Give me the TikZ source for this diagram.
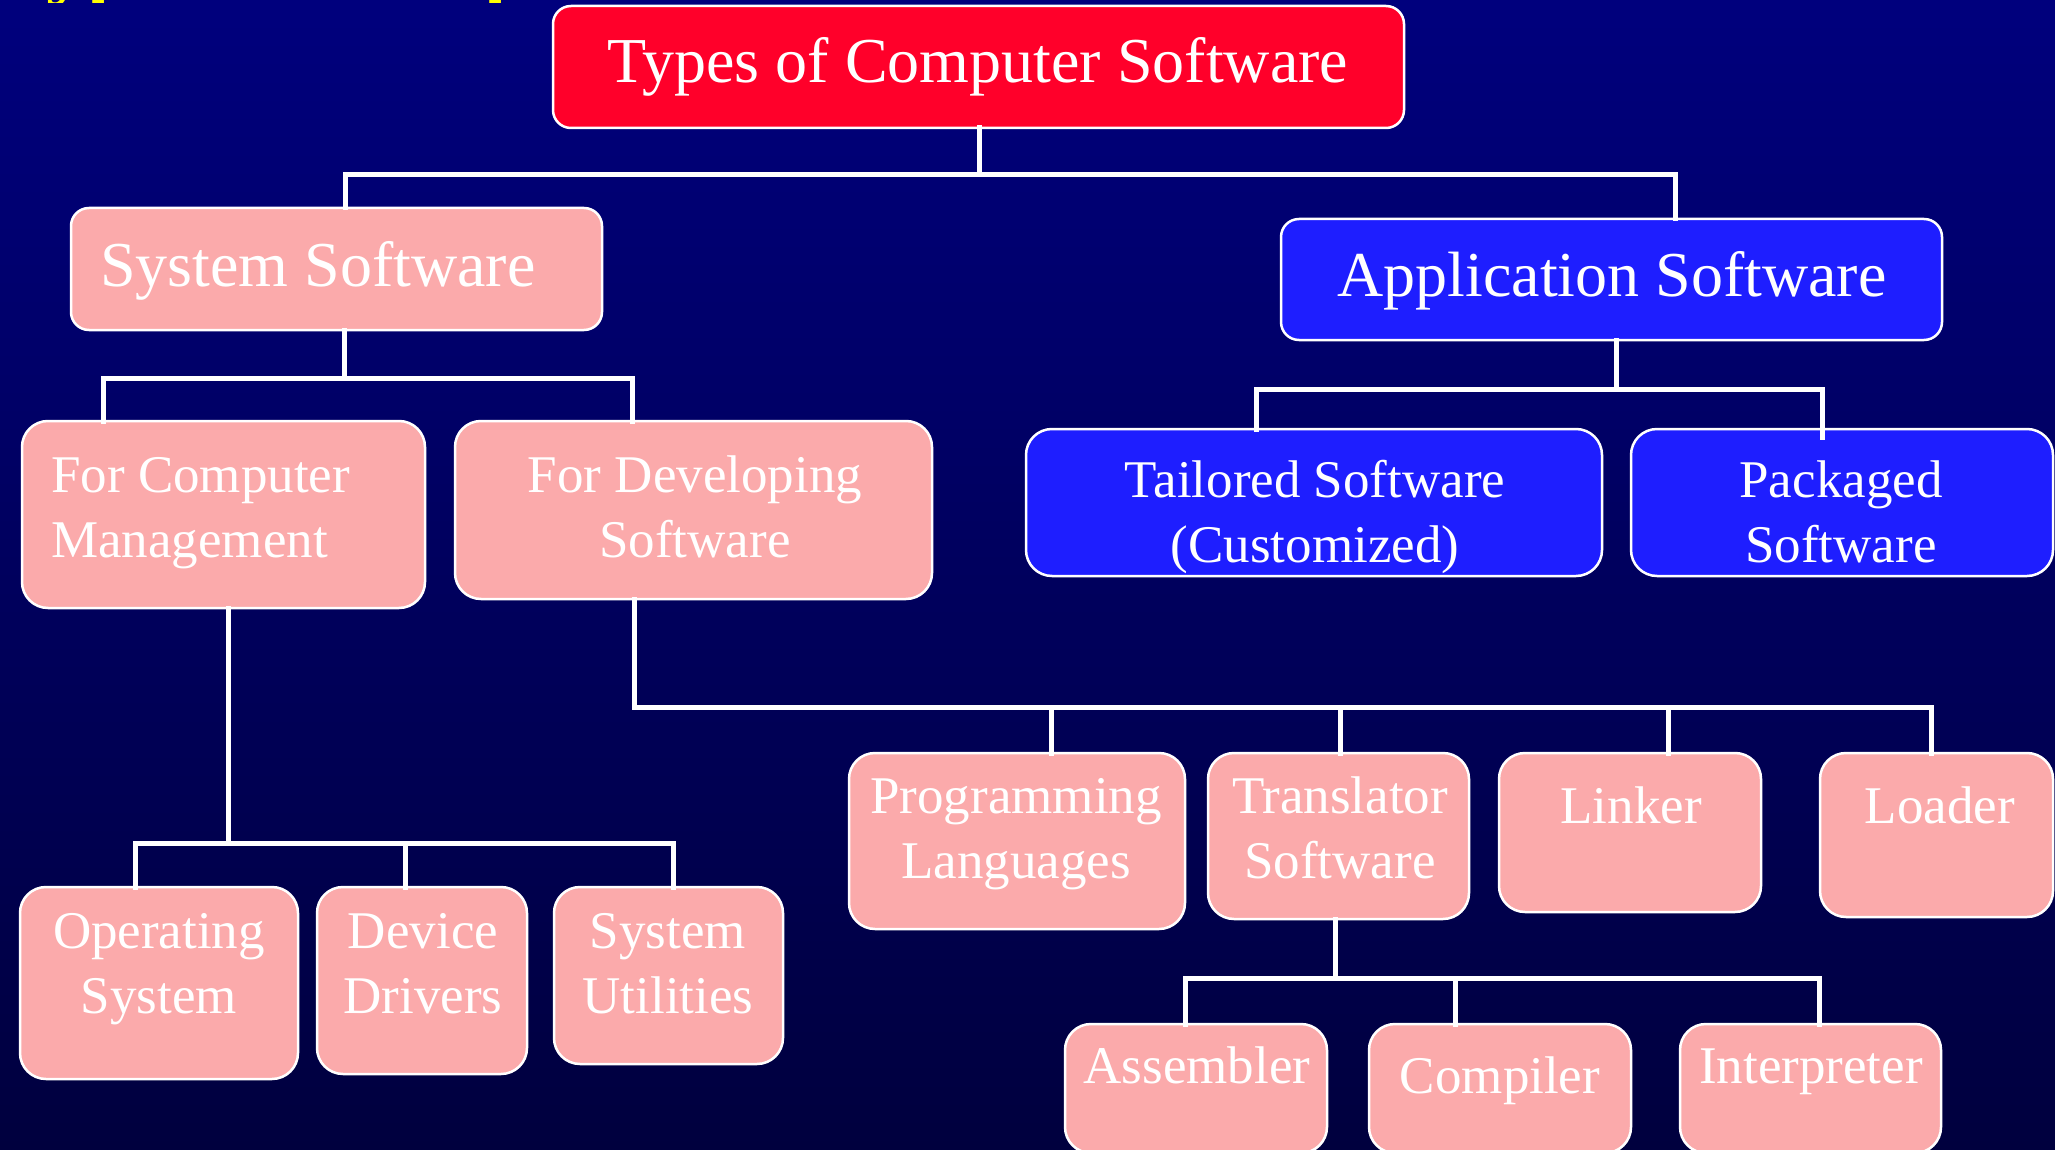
\documentclass[tikz,border=0pt]{standalone}
\usepackage{fontspec}
\setmainfont{Liberation Serif}
\definecolor{bgtop}{RGB}{0,0,125}
\definecolor{bgbot}{RGB}{0,0,62}
\definecolor{rootred}{RGB}{255,0,42}
\definecolor{sysPink}{RGB}{251,170,171}
\definecolor{appBlue}{RGB}{30,30,255}
\definecolor{headYellow}{RGB}{255,255,0}
% box: style, name, x1, y1, x2, y2 (pixel-like units, y downwards)
\newcommand\boxnode[6]{%
  \node[#1, anchor=north west, minimum width={#5-#3}, minimum height={#6-#4}] (#2) at (#3,#4) {};}
\begin{document}
\setlength\tabcolsep{0pt}
\begin{tikzpicture}[x=1pt, y=-1pt,
  boxbase/.style={draw=white, line width=2.5pt, inner sep=0pt, outer sep=0pt},
  bigbox/.style={boxbase, rounded corners=18pt},
  smallbox/.style={boxbase, rounded corners=26pt},
  redbox/.style={bigbox, fill=rootred},
  pinkbig/.style={bigbox, fill=sysPink},
  bluebig/.style={bigbox, fill=appBlue},
  pinkbox/.style={smallbox, fill=sysPink},
  bluebox/.style={smallbox, fill=appBlue},
  bigtxt/.style={text=white, inner sep=0pt, font=\fontsize{64}{77}\selectfont},
  txt/.style={text=white, inner sep=0pt, font=\fontsize{53}{65}\selectfont},
  conn/.style={draw=white, line width=5pt, line join=miter, line cap=rect}]

\clip (0,0) rectangle (2055,1150);
\shade[top color=bgtop, bottom color=bgbot] (0,0) rectangle (2055,1150);

% slide heading: only the lowest strip of its descenders is left uncovered
\begin{scope}
  \clip (0,0) rectangle (2055,3);
  \node[anchor=base west, inner sep=0pt, text=headYellow,
    font=\fontsize{83}{100}\selectfont\bfseries] (heading) at (-3,-10) {Types of Computer Software};
\end{scope}

% junction points of the tree buses
\coordinate (rootj) at (979,175);
\coordinate (rootjl) at (345,175);
\coordinate (rootjr) at (1675,175);
\coordinate (sysj) at (344,378);
\coordinate (sysjl) at (103,378);
\coordinate (sysjr) at (632,378);
\coordinate (appj) at (1616,389);
\coordinate (appjl) at (1256,389);
\coordinate (appjr) at (1822,389);
\coordinate (mgmtj) at (228,843);
\coordinate (mgmtjl) at (135,843);
\coordinate (mgmtjm) at (405,843);
\coordinate (mgmtjr) at (673,843);
\coordinate (devj) at (634,707);
\coordinate (devj1) at (1051,707);
\coordinate (devj2) at (1340,707);
\coordinate (devj3) at (1668,707);
\coordinate (devj4) at (1931,707);
\coordinate (tsj) at (1335,978);
\coordinate (tsjl) at (1185,978);
\coordinate (tsjm) at (1455,978);
\coordinate (tsjr) at (1819,978);
\coordinate (packstub) at (1822,437);

% boxes
\boxnode{redbox}{root}{553}{6}{1404}{128}
\boxnode{pinkbig}{sys}{71}{208}{602}{330}
\boxnode{bluebig}{app}{1281}{219}{1942}{340}
\boxnode{pinkbox}{mgmt}{22}{421}{425}{608}
\boxnode{pinkbox}{dev}{455}{421}{932}{599}
\boxnode{bluebox}{tail}{1026}{429}{1602}{576}
\boxnode{bluebox}{pack}{1631}{429}{2053}{576}
\boxnode{pinkbox}{os}{20}{887}{298}{1079}
\boxnode{pinkbox}{dd}{317}{887}{527}{1074}
\boxnode{pinkbox}{su}{554}{887}{783}{1064}
\boxnode{pinkbox}{pl}{849}{753}{1185}{929}
\boxnode{pinkbox}{ts}{1208}{753}{1469}{919}
\boxnode{pinkbox}{lnk}{1499}{753}{1761}{912}
\boxnode{pinkbox}{ldr}{1820}{753}{2053}{917}
\boxnode{pinkbox}{asm}{1065}{1024}{1327}{1153}
\boxnode{pinkbox}{cmp}{1369}{1024}{1631}{1153}
\boxnode{pinkbox}{intp}{1680}{1024}{1941}{1153}

% connectors
\draw[conn] (rootj |- root.south) -- (rootj);
\draw[conn] (rootjl |- sys.north) -- (rootjl) -- (rootjr) -- (rootjr |- app.north);
\draw[conn] (sysj |- sys.south) -- (sysj);
\draw[conn] (sysjl |- mgmt.north) -- (sysjl) -- (sysjr) -- (sysjr |- dev.north);
\draw[conn] (appj |- app.south) -- (appj);
\draw[conn] (appjl |- tail.north) -- (appjl) -- (appjr) -- (packstub);
\draw[conn] (mgmtj |- mgmt.south) -- (mgmtj);
\draw[conn] (mgmtjl |- os.north) -- (mgmtjl) -- (mgmtjr) -- (mgmtjr |- su.north);
\draw[conn] (mgmtjm) -- (mgmtjm |- dd.north);
\draw[conn] (devj |- dev.south) -- (devj) -- (devj4) -- (devj4 |- ldr.north);
\draw[conn] (devj1) -- (devj1 |- pl.north);
\draw[conn] (devj2) -- (devj2 |- ts.north);
\draw[conn] (devj3) -- (devj3 |- lnk.north);
\draw[conn] (tsj |- ts.south) -- (tsj);
\draw[conn] (tsjl |- asm.north) -- (tsjl) -- (tsjr) -- (tsjr |- intp.north);
\draw[conn] (tsjm) -- (tsjm |- cmp.north);

% labels
\node[bigtxt, anchor=base] (root-t) at (978,83) {Types of Computer Software};
\node[bigtxt, anchor=base west] (sys-t) at (100,287) {System Software};
\node[bigtxt, anchor=base] (app-t) at (1612,297) {Application Software};
\node[txt, anchor=base west] (mgmt-t) at (51,492) {\begin{tabular}[t]{l}For Computer\\Management\end{tabular}};
\node[txt, anchor=base] (dev-t) at (695,492) {\begin{tabular}[t]{c}For Developing\\Software\end{tabular}};
\node[txt, anchor=base] (tail-t) at (1315,497) {\begin{tabular}[t]{c}Tailored Software\\(Customized)\end{tabular}};
\node[txt, anchor=base] (pack-t) at (1841,497) {\begin{tabular}[t]{c}Packaged\\Software\end{tabular}};
\node[txt, anchor=base] (os-t) at (159,948) {\begin{tabular}[t]{c}Operating\\System\end{tabular}};
\node[txt, anchor=base] (dd-t) at (423,948) {\begin{tabular}[t]{c}Device\\Drivers\end{tabular}};
\node[txt, anchor=base] (su-t) at (668,948) {\begin{tabular}[t]{c}System\\Utilities\end{tabular}};
\node[txt, anchor=base] (pl-t) at (1016,813) {\begin{tabular}[t]{c}Programming\\Languages\end{tabular}};
\node[txt, anchor=base] (ts-t) at (1340,813) {\begin{tabular}[t]{c}Translator\\Software\end{tabular}};
\node[txt, anchor=base] (lnk-t) at (1631,823) {Linker};
\node[txt, anchor=base] (ldr-t) at (1940,823) {Loader};
\node[txt, anchor=base] (asm-t) at (1197,1083) {Assembler};
\node[txt, anchor=base] (cmp-t) at (1500,1093) {Compiler};
\node[txt, anchor=base] (intp-t) at (1811,1083) {Interpreter};
\end{tikzpicture}
\end{document}
